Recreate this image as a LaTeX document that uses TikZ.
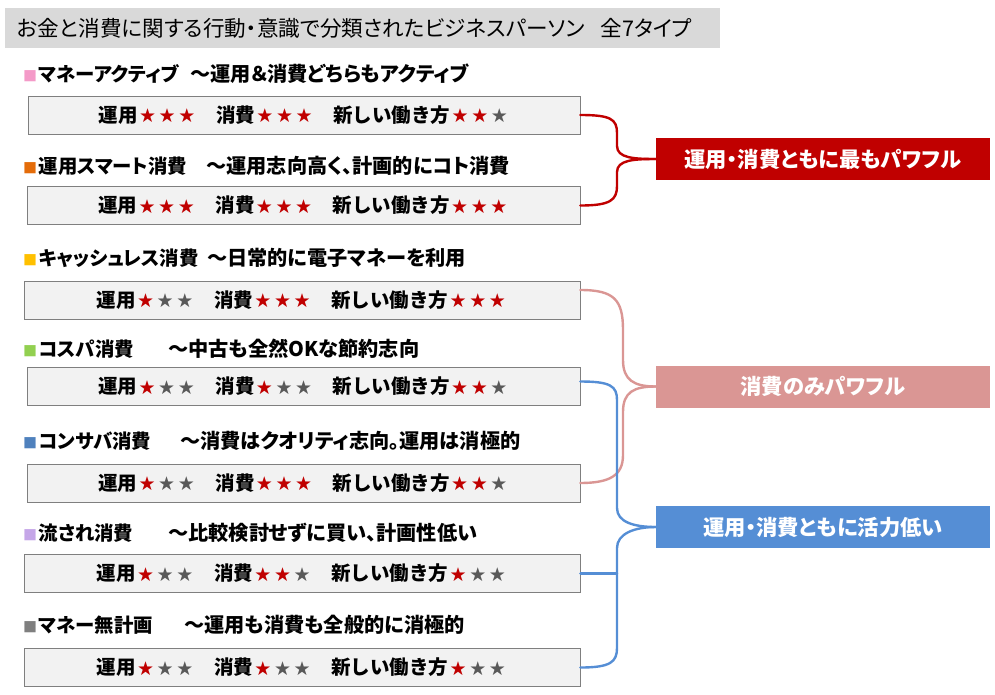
\documentclass[tikz,border=0pt]{standalone}
\usepackage{fontspec}
\setmainfont{Noto Sans CJK JP}
\newfontfamily\jpp[RawFeature=+palt]{Noto Sans CJK JP}
\newfontfamily\jpf{Noto Sans CJK JP}
\usetikzlibrary{calc}
\definecolor{titlegray}{HTML}{D9D9D9}
\definecolor{boxfill}{HTML}{F2F2F2}
\definecolor{boxline}{HTML}{7F7F7F}
\definecolor{starred}{HTML}{C00000}
\definecolor{stargray}{HTML}{595959}
\definecolor{catred}{HTML}{C00000}
\definecolor{catpink}{HTML}{DA9694}
\definecolor{catblue}{HTML}{558ED5}
\definecolor{bpink}{HTML}{F49AC8}
\definecolor{borange}{HTML}{E46C0A}
\definecolor{byellow}{HTML}{FFC000}
\definecolor{bgreen}{HTML}{92D050}
\definecolor{bblue}{HTML}{4F81BD}
\definecolor{bpurple}{HTML}{C5A6E8}
\definecolor{bgray}{HTML}{7F7F7F}
\newcommand\onestar[1]{\makebox[19.6pt][c]{\raisebox{0.6pt}{\textcolor{#1}{\fontsize{15.5}{15.5}\selectfont ★}}}}
\newcommand\rstar{\onestar{starred}}
\newcommand\gstar{\onestar{stargray}}
\newcommand\sq[1]{{\color{#1}\fontsize{14}{14}\selectfont ■}\hspace{1.5pt}}
\begin{document}
\begin{tikzpicture}[x=1pt,y=-1pt,
  rowbox/.style={draw=boxline, fill=boxfill, line width=0.8pt, minimum height=38pt, inner sep=0pt,
    font=\jpf\bfseries\fontsize{19.5}{20}\selectfont},
  head/.style={anchor=west, inner sep=0pt, font=\jpp\bfseries\fontsize{20.2}{21}\selectfont},
  headl/.style={head, font=\jpp\bfseries\fontsize{19.4}{21}\selectfont},
  catbox/.style={minimum width=334pt, minimum height=42pt, inner sep=0pt, text=white,
    font=\jpp\bfseries\fontsize{21.3}{22}\selectfont},
  brace/.style={line width=2.4pt, line cap=round, line join=round}]
\useasboundingbox (0,0) rectangle (995,694);
% title
\node[fill=titlegray, minimum width=715pt, minimum height=40pt, inner sep=0pt] (tbar) at (362.5,28) {};
\node[anchor=west, inner sep=0pt, font=\jpp\fontsize{21.6}{22}\selectfont] (title) at (17,28)
  {お金と消費に関する行動・意識で分類されたビジネスパーソン\hspace{16pt}全7タイプ};
% headings
\node[headl] (h1) at (23,74) {\sq{bpink}マネーアクティブ};
\node[head] (h1d) at (190,74) {～運用＆消費どちらもアクティブ};
\node[headl] (h2) at (23,166) {\sq{borange}運用スマート消費};
\node[head] (h2d) at (206,166) {～運用志向高く、計画的にコト消費};
\node[headl] (h3) at (23,258) {\sq{byellow}キャッシュレス消費};
\node[head] (h3d) at (207,258) {～日常的に電子マネーを利用};
\node[headl] (h4) at (23,349) {\sq{bgreen}コスパ消費};
\node[head] (h4d) at (168,349) {～中古も全然OKな節約志向};
\node[headl] (h5) at (23,441) {\sq{bblue}コンサバ消費};
\node[head] (h5d) at (180,441) {～消費はクオリティ志向。運用は消極的};
\node[headl] (h6) at (23,533) {\sq{bpurple}流され消費};
\node[head] (h6d) at (168,533) {～比較検討せずに買い、計画性低い};
\node[headl] (h7) at (23,625) {\sq{bgray}マネー無計画};
\node[head] (h7d) at (184,625) {～運用も消費も全般的に消極的};
% rating boxes
\node[rowbox, minimum width=552pt] (b1) at (304,115)
  {運用\rstar\rstar\rstar　消費\rstar\rstar\rstar　新しい働き方\rstar\rstar\gstar};
\node[rowbox, minimum width=553pt] (b2) at (303.5,205.5)
  {運用\rstar\rstar\rstar　消費\rstar\rstar\rstar　新しい働き方\rstar\rstar\rstar};
\node[rowbox, minimum width=556pt] (b3) at (302,300)
  {運用\rstar\gstar\gstar　消費\rstar\rstar\rstar　新しい働き方\rstar\rstar\rstar};
\node[rowbox, minimum width=553pt] (b4) at (303.5,386.5)
  {運用\rstar\gstar\gstar　消費\rstar\gstar\gstar　新しい働き方\rstar\rstar\gstar};
\node[rowbox, minimum width=553pt] (b5) at (303.5,483)
  {運用\rstar\gstar\gstar　消費\rstar\rstar\rstar　新しい働き方\rstar\rstar\gstar};
\node[rowbox, minimum width=556pt] (b6) at (302,573.5)
  {運用\rstar\gstar\gstar　消費\rstar\rstar\gstar　新しい働き方\rstar\gstar\gstar};
\node[rowbox, minimum width=556pt] (b7) at (302,667.5)
  {運用\rstar\gstar\gstar　消費\rstar\gstar\gstar　新しい働き方\rstar\gstar\gstar};
% category boxes
\node[catbox, fill=catred] (cr) at (823,159) {運用・消費ともに最もパワフル};
\node[catbox, fill=catpink] (cp) at (823,386.5) {消費のみパワフル};
\node[catbox, fill=catblue] (cb) at (823,527) {運用・消費ともに活力低い};
% braces
\draw[brace, catred] (b1.east) .. controls +(30,0) and +(0,-14) .. (617,133) -- (617,146)
  .. controls +(0,12) and +(-22,0) .. (cr.west);
\draw[brace, catred] (cr.west) .. controls +(-22,0) and +(0,-12) .. (617,172) -- (617,186)
  .. controls +(0,14) and +(30,0) .. (b2.east);
\draw[brace, catpink] ($(b3.east)+(0,-10)$) .. controls +(34,0) and +(0,-30) .. (623,330) -- (623,360)
  .. controls +(0,20) and +(-22,0) .. (cp.west);
\draw[brace, catpink] (cp.west) .. controls +(-22,0) and +(0,-20) .. (623,412) -- (623,455)
  .. controls +(0,20) and +(30,0) .. (b5.east);
\draw[brace, catblue] ($(b4.east)+(0,-5)$) .. controls +(30,0) and +(0,-14) .. (617,400) -- (617,508)
  .. controls +(0,14) and +(-22,0) .. (cb.west);
\draw[brace, catblue] (cb.west) .. controls +(-22,0) and +(0,-14) .. (617,548) -- (617,648)
  .. controls +(0,14) and +(30,0) .. (b7.east);
\draw[brace, catblue] (b6.east) -- (617,573.5);
\end{tikzpicture}
\end{document}
